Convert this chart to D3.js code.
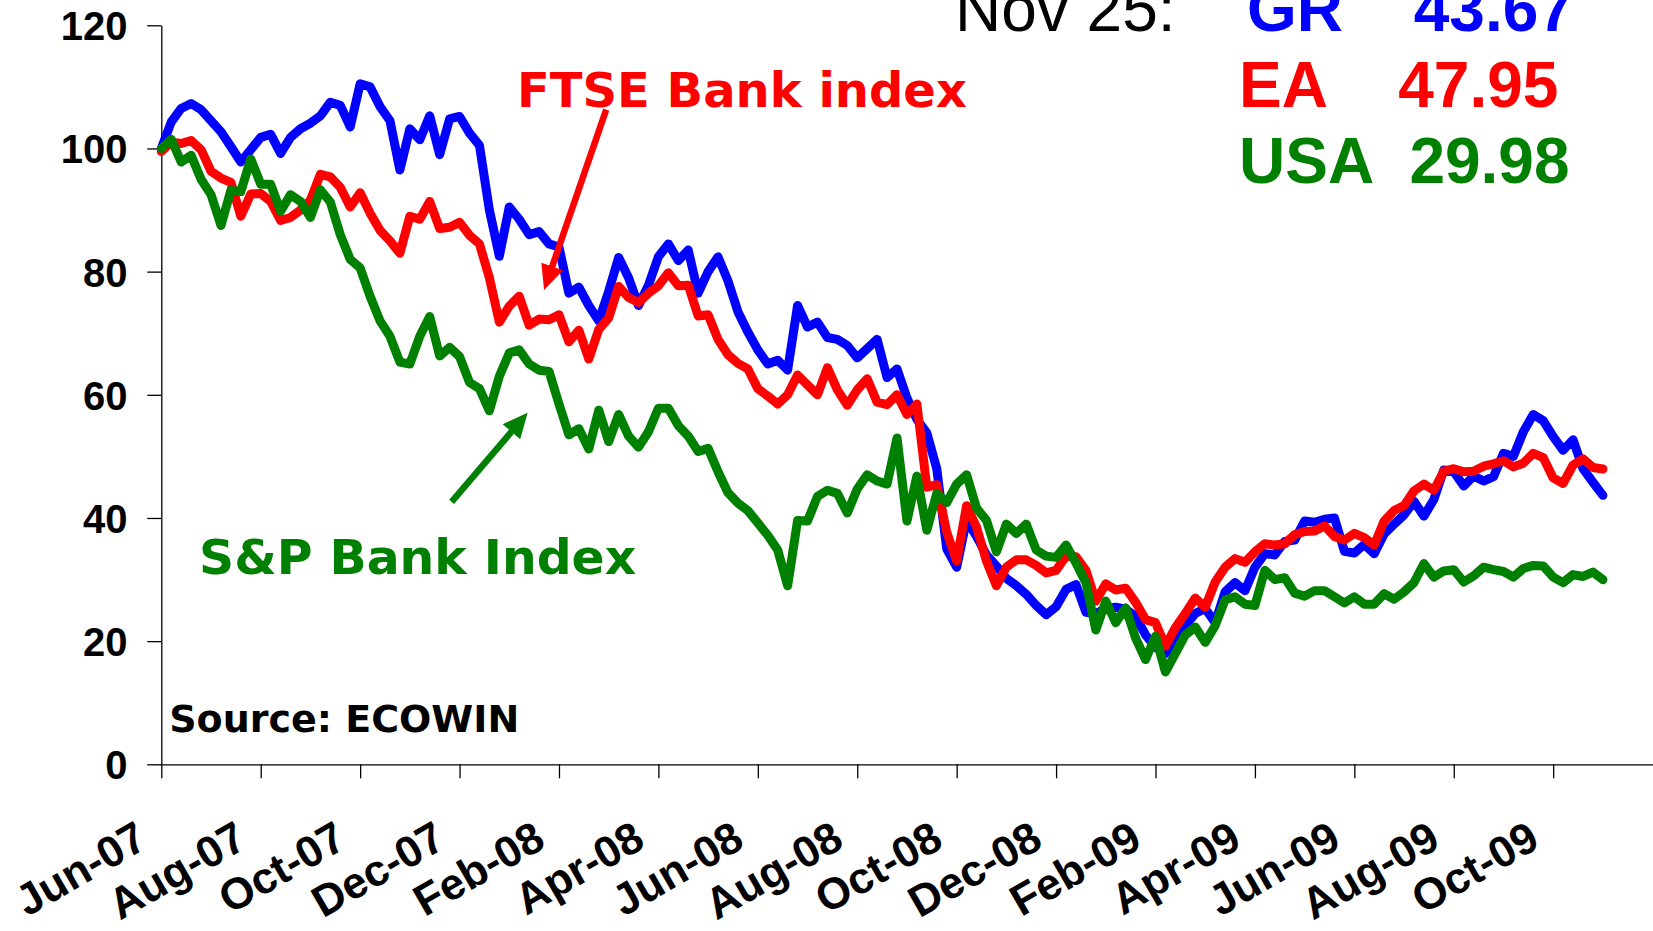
<!DOCTYPE html>
<html>
<head>
    <meta charset="utf-8" />
    <title>Bank indices</title>
    <style>
        body { margin: 0; overflow: hidden; background: #fff; }
        .axis path, .axis line { stroke: #000; stroke-width: 1.3; }
        .axis text {
            font-family: "Liberation Sans", Arial, sans-serif;
            font-weight: bold;
            font-size: 40px;
            fill: #000;
        }
        .x-axis text { font-size: 44px; }
        .note { font-family: "DejaVu Sans", Verdana, sans-serif; font-weight: bold; }
        .readout { font-family: "Liberation Sans", Arial, sans-serif; font-size: 64px; }
    </style>
</head>
<body>
    <svg id="chart" width="1653" height="931"></svg>
    <script src="https://d3js.org/d3.v7.min.js"></script>
    <script>
        // one sample every 0.2 month, starting at Jun-07
        var step = 0.2;
        var tickLabels = ["Jun-07", "Aug-07", "Oct-07", "Dec-07", "Feb-08", "Apr-08", "Jun-08", "Aug-08",
            "Oct-08", "Dec-08", "Feb-09", "Apr-09", "Jun-09", "Aug-09", "Oct-09"];
        var yTicks = [0, 20, 40, 60, 80, 100, 120];

        // GR bank index
        var gr = [100, 104.3, 106.5, 107.3, 106.3, 104.5, 102.7, 100.3, 97.8, 99.8,
            101.8, 102.3, 99.2, 101.8, 103.2, 104.1, 105.3, 107.5, 107, 103.5,
            110.5, 110, 106.8, 104.5, 96.5, 103.2, 101.4, 105.3, 99, 104.8,
            105.2, 102.5, 100.5, 90, 82.5, 90.5, 88.5, 86, 86.5, 84.5,
            84, 76.5, 77.5, 74.5, 72, 76.8, 82.3, 79, 74.5, 77.8,
            82.4, 84.5, 81.8, 83.5, 76.5, 80, 82.4, 78.5, 73.5, 70.2,
            67.3, 65, 65.6, 64, 74.5, 71, 71.8, 69.3, 69, 68,
            66, 67.5, 69, 62.8, 64.2, 59.5, 56, 53.8, 48, 35,
            32, 39.7, 37, 34, 32.2, 30.2, 29, 27.6, 25.8, 24.3,
            25.6, 28.4, 29.2, 24.7, 24.5, 25.3, 25.5, 25.2, 24, 21,
            19, 18, 20, 22.5, 24.5, 25.3, 23, 28, 29.5, 28.2,
            32, 34.2, 34, 36.2, 36.4, 39.5, 39.3, 39.8, 40, 34.6,
            34.3, 35.7, 34.2, 37.4, 39, 40.5, 42.7, 40.3, 43, 47.8,
            47.5, 45.2, 46.8, 46, 46.7, 50.5, 50, 54, 56.8, 55.8,
            53.2, 51, 52.7, 48, 45.8, 43.67];

        // EA (FTSE) bank index
        var ea = [99.5, 101, 100.8, 101.3, 99.8, 96.3, 95.2, 94.5, 89, 92.6,
            92.7, 91.4, 88.3, 88.8, 90, 91.6, 95.8, 95.4, 93.7, 90.5,
            92.8, 89.5, 86.7, 85, 83, 89, 88.5, 91.4, 87, 87.2,
            88, 85.9, 84.5, 79, 71.8, 74.4, 76, 71.3, 72.3, 72.2,
            73, 68.6, 70.5, 65.8, 70.6, 72.5, 77.6, 75.8, 75, 76.5,
            77.7, 79.8, 77.7, 77.8, 72.8, 73, 69, 66.5, 65.1, 64.2,
            61, 59.8, 58.5, 60, 63.2, 61.6, 60, 64.4, 60.8, 58.3,
            60.8, 62.6, 58.8, 58.4, 60, 56.8, 58.5, 45, 45.4, 37.7,
            33, 42, 38.5, 33, 29, 32, 33.2, 33.2, 32.3, 31.1,
            31.5, 33.8, 33.7, 31.5, 26.5, 29.3, 28.3, 28.6, 26.3, 23.5,
            23, 19.2, 22.2, 24.5, 27, 25.5, 29.6, 32, 33.4, 32.8,
            34.5, 35.8, 35.6, 35.8, 37.3, 37.8, 37.9, 38.7, 37, 36.4,
            37.5, 36.8, 35.6, 39.5, 41.2, 42, 44.4, 45.5, 44.5, 47.6,
            48, 47.5, 47.6, 48.4, 48.8, 49.3, 48.3, 48.9, 50.5, 49.8,
            46.5, 45.6, 48.6, 49.6, 48.2, 47.95];

        // USA (S&P) bank index
        var usa = [100, 101.5, 97.8, 98.9, 95, 92.5, 87.5, 93.2, 93, 98.3,
            94.2, 94.2, 89.8, 92.5, 91.4, 88.8, 93.3, 91.3, 86, 82,
            80.6, 76, 72, 69.5, 65.3, 65, 69.5, 72.7, 66.3, 67.7,
            66.2, 62, 61, 57.4, 63, 66.8, 67.3, 65, 64, 63.8,
            58.5, 53.5, 54.5, 51.2, 57.5, 52.4, 56.8, 53.3, 51.5, 54,
            57.8, 57.8, 55, 53.3, 50.8, 51.3, 47.5, 44.1, 42.4, 41.2,
            39.2, 37.2, 34.8, 29, 39.6, 39.5, 43.5, 44.5, 44, 40.8,
            44.7, 47, 46, 45.5, 53, 39.5, 46.8, 38, 44, 42.5,
            45.5, 47, 41.6, 39.6, 34.5, 39, 37.5, 39, 34.8, 33.8,
            33.6, 35.6, 32.7, 29.5, 21.8, 26.5, 23, 25.4, 20.5, 17,
            20.8, 15, 18, 21, 22.3, 19.8, 22.5, 26.7, 27.2, 26,
            25.8, 31.5, 30, 30.3, 27.8, 27.3, 28.2, 28.2, 27.2, 26.2,
            27.2, 26, 26, 27.7, 26.8, 28, 29.5, 32.6, 30.4, 31.4,
            31.6, 29.6, 30.6, 32, 31.6, 31.3, 30.4, 31.8, 32.3, 32.2,
            30.4, 29.5, 30.8, 30.5, 31.2, 29.98];

        var series = [
            { name: "GR", color: "#0000ff", values: gr },
            { name: "EA", color: "#ff0000", values: ea },
            { name: "USA", color: "#008000", values: usa }
        ];

        var svg = d3.select("#chart");
        svg.append("rect").attr("width", 1653).attr("height", 931).attr("fill", "#fff");

        // x in months after Jun-07
        var x = d3.scaleLinear().domain([0, 30]).range([161.3, 1652.6]);
        var y = d3.scaleLinear().domain([0, 120]).range([764.3, 25.3]);

        // axes
        var xAxis = d3.axisBottom(x)
            .tickValues(tickLabels.map((d, i) => i * 2))
            .tickFormat((d, i) => tickLabels[i])
            .tickSize(14)
            .tickSizeOuter(0);
        var gx = svg.append("g")
            .attr("class", "axis x-axis")
            .attr("transform", `translate(0,${y(0)})`)
            .call(xAxis);
        gx.selectAll(".tick text")
            .attr("x", 0)
            .attr("y", 0)
            .attr("dy", 0)
            .attr("text-anchor", "end")
            .attr("transform", "translate(-12,82) rotate(-30)");

        var yAxis = d3.axisLeft(y)
            .tickValues(yTicks)
            .tickSize(14)
            .tickSizeOuter(0);
        var gy = svg.append("g")
            .attr("class", "axis")
            .attr("transform", `translate(${x(0)},0)`)
            .call(yAxis);
        gy.selectAll(".tick text")
            .attr("x", -33.8)
            .attr("dy", "0.36em");

        // lines
        var line = d3.line()
            .x((d, i) => x(i * step))
            .y(d => y(d));
        svg.selectAll("path.series")
            .data(series)
            .join("path")
            .attr("class", "series")
            .attr("d", d => line(d.values))
            .attr("fill", "none")
            .attr("stroke", d => d.color)
            .attr("stroke-width", 9)
            .attr("stroke-linejoin", "round")
            .attr("stroke-linecap", "round");

        // arrows, ends given in chart units [month, value]
        function arrow(from, to, color) {
            var p0 = [x(from[0]), y(from[1])], p1 = [x(to[0]), y(to[1])];
            var dx = p1[0] - p0[0], dy = p1[1] - p0[1];
            var len = Math.sqrt(dx * dx + dy * dy);
            var ux = dx / len, uy = dy / len;
            var headLen = 25, headHalf = 11.5;
            var bx = p1[0] - ux * headLen, by = p1[1] - uy * headLen;
            svg.append("line")
                .attr("x1", p0[0]).attr("y1", p0[1])
                .attr("x2", bx + ux * 4).attr("y2", by + uy * 4)
                .attr("stroke", color)
                .attr("stroke-width", 6.5);
            svg.append("polygon")
                .attr("points", [
                    [p1[0], p1[1]],
                    [bx - uy * headHalf, by + ux * headHalf],
                    [bx + uy * headHalf, by - ux * headHalf]
                ].map(p => p.join(",")).join(" "))
                .attr("fill", color);
        }
        arrow([8.95, 106.3], [7.7, 77.0], "#ff0000");
        arrow([5.84, 42.6], [7.37, 57.1], "#008000");

        // notes
        svg.append("text").attr("class", "note")
            .attr("x", 517).attr("y", 106.7)
            .attr("font-size", 48).attr("fill", "#ff0000")
            .text("FTSE Bank index");
        svg.append("text").attr("class", "note")
            .attr("x", 199).attr("y", 573.5)
            .attr("font-size", 48.8).attr("fill", "#008000")
            .text("S&P Bank Index");
        svg.append("text").attr("class", "note")
            .attr("x", 169.2).attr("y", 731.5)
            .attr("font-size", 38).attr("fill", "#000")
            .text("Source: ECOWIN");

        // last values readout
        svg.append("text").attr("class", "readout")
            .attr("x", 955).attr("y", 30.5)
            .attr("fill", "#000")
            .text("Nov 25:");
        var readNameX = [1247, 1239, 1239];
        var readValueX = [1413.7, 1398.2, 1409.4];
        var readBase = [30.7, 107.3, 183.3];
        var fmt = d3.format(".2f");
        series.forEach(function (s, i) {
            svg.append("text").attr("class", "readout")
                .attr("x", readNameX[i]).attr("y", readBase[i])
                .attr("font-weight", "bold").attr("fill", s.color)
                .text(s.name);
            svg.append("text").attr("class", "readout")
                .attr("x", readValueX[i]).attr("y", readBase[i])
                .attr("font-weight", "bold").attr("fill", s.color)
                .text(fmt(s.values[s.values.length - 1]));
        });
    </script>
</body>
</html>
